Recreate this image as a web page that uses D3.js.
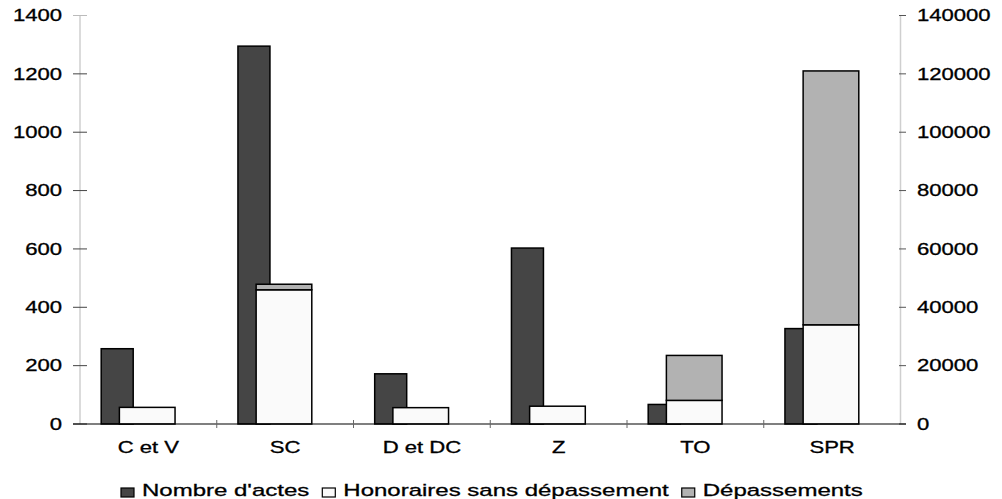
<!DOCTYPE html>
<html><head><meta charset="utf-8">
<script src="https://cdn.jsdelivr.net/npm/d3@7"></script>
<style>
html,body{margin:0;padding:0;background:#fff;}
text{font-family:"Liberation Sans",Arial,sans-serif;fill:#000;stroke:#000;stroke-width:0.3;}
</style></head>
<body><svg id="c" width="1002" height="499"></svg>
<script>
const categories = ["C et V","SC","D et DC","Z","TO","SPR"];
const nombreActes = [258, 1295, 172, 603, 67, 327];
const honoraires = [5700, 46000, 5600, 6100, 8100, 34000];
const depassements = [0, 1900, 0, 0, 15400, 87000];
const leftTicks = [0,200,400,600,800,1000,1200,1400];
const rightTicks = [0,20000,40000,60000,80000,100000,120000,140000];
const legendLabels = ["Nombre d'actes","Honoraires sans dépassement","Dépassements"];
const colors = ["#454545","#fafafa","#b2b2b2"];

const SX = 1.38, FS = 16;
const svg = d3.select("#c");
const x = d3.scaleBand().domain(categories).range([80, 900.5]).padding(0);
const yL = d3.scaleLinear().domain([0,1400]).range([424, 15.5]);
const yR = d3.scaleLinear().domain([0,140000]).range([424, 15.5]);
const bw = x.bandwidth();

function stxt(g, tx, ty, s, anchor, fs){
  return g.append("text").attr("transform",`translate(${tx},${ty}) scale(${SX},1)`)
    .attr("text-anchor",anchor).attr("font-size",fs||FS).text(s);
}

// axis lines
svg.append("line").attr("x1",80).attr("x2",80).attr("y1",15.5).attr("y2",424).attr("stroke","#cfcfcf").attr("stroke-width",1.5);
svg.append("line").attr("x1",900.5).attr("x2",900.5).attr("y1",15.5).attr("y2",424).attr("stroke","#cfcfcf").attr("stroke-width",1.5);

// left ticks
leftTicks.forEach(t=>{
  svg.append("line").attr("x1",73).attr("x2",87).attr("y1",yL(t)).attr("y2",yL(t)).attr("stroke", t===1400?"#bbb":"#444").attr("stroke-width",1);
  stxt(svg, 62, yL(t)+5.7, String(t), "end");
});
rightTicks.forEach(t=>{
  svg.append("line").attr("x1",899).attr("x2",906).attr("y1",yR(t)).attr("y2",yR(t)).attr("stroke","#555").attr("stroke-width",1);
  stxt(svg, 917, yR(t)+5.7, String(t), "start");
});

// bars
const dark = svg.append("g");
categories.forEach((c,i)=>{
  dark.append("rect").attr("x",x(c)+bw*0.155).attr("width",bw*0.234)
    .attr("y",yL(nombreActes[i])).attr("height",yL(0)-yL(nombreActes[i]))
    .attr("fill",colors[0]).attr("stroke","#000").attr("stroke-width",1.5);
});
categories.forEach((c,i)=>{
  const bx = x(c)+bw*0.288, w = bw*0.407;
  svg.append("rect").attr("x",bx).attr("width",w)
    .attr("y",yR(honoraires[i])).attr("height",yR(0)-yR(honoraires[i]))
    .attr("fill",colors[1]).attr("stroke","#000").attr("stroke-width",1.5);
  if(depassements[i]>0){
    const top = honoraires[i]+depassements[i];
    svg.append("rect").attr("x",bx).attr("width",w)
      .attr("y",yR(top)).attr("height",yR(honoraires[i])-yR(top))
      .attr("fill",colors[2]).attr("stroke","#000").attr("stroke-width",1.5);
  }
});

// x axis
svg.append("line").attr("x1",73).attr("x2",906).attr("y1",424).attr("y2",424).attr("stroke","#000").attr("stroke-width",1.2);
categories.forEach((c,i)=>{
  if(i>0) svg.append("line").attr("x1",x(c)).attr("x2",x(c)).attr("y1",420).attr("y2",428).attr("stroke","#666");
  stxt(svg, x(c)+bw/2, 453, c, "middle");
});

// legend
const lg = svg.append("g");
let cx = 121;
legendLabels.forEach((l,i)=>{
  lg.append("rect").attr("x",cx).attr("y",488).attr("width",13).attr("height",9)
    .attr("fill",colors[i]).attr("stroke","#000").attr("stroke-width",1.2);
  const t = stxt(lg, cx+21, 496, l, "start", 17.4);
  const w = t.node().getComputedTextLength()*SX;
  cx += 21 + w + 13;
});
</script></body></html>
